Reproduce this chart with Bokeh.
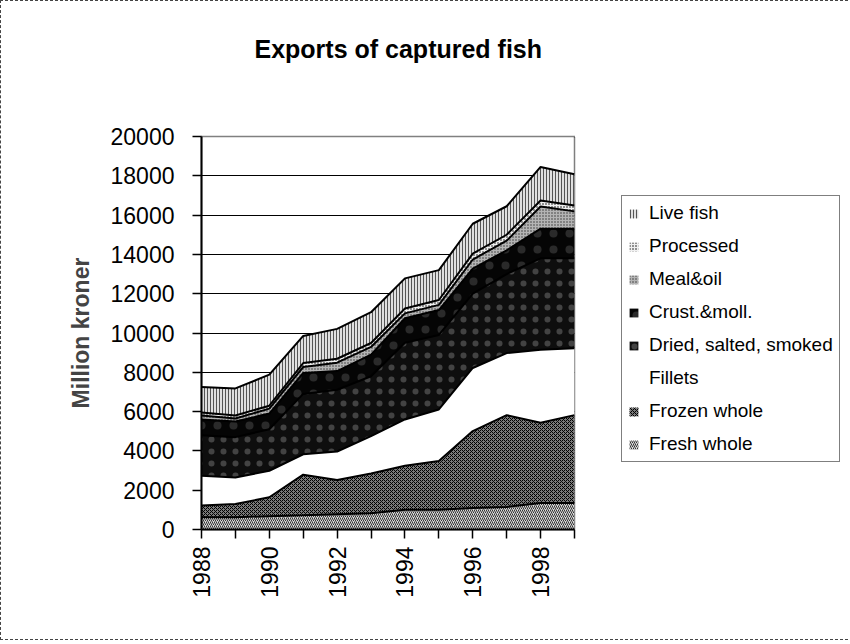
import math
from bokeh.plotting import figure
from bokeh.models import (ColumnDataSource, Range1d, FixedTicker, Legend, LegendItem, Title)
from bokeh.embed import file_html
from bokeh.resources import INLINE

years = [1988, 1989, 1990, 1991, 1992, 1993, 1994, 1995, 1996, 1997, 1998, 1999]
fresh_whole = [620, 620, 680, 720, 780, 830, 1000, 1000, 1100, 1150, 1350, 1350]
frozen_whole = [600, 680, 960, 2070, 1740, 2020, 2240, 2490, 3910, 4670, 4080, 4470]
fillets = [1520, 1350, 1350, 1040, 1450, 1900, 2360, 2620, 3210, 3160, 3720, 3410]
dried = [2060, 2050, 2110, 3070, 3140, 3050, 3900, 3790, 3780, 4020, 4650, 4570]
crust = [800, 800, 800, 1070, 950, 1100, 1250, 1270, 1280, 1210, 1510, 1510]
meal_oil = [200, 150, 250, 300, 430, 390, 250, 260, 460, 490, 1130, 880]
processed = [150, 150, 150, 200, 200, 200, 250, 250, 300, 300, 300, 300]
live_fish = [1300, 1380, 1580, 1380, 1520, 1570, 1530, 1520, 1520, 1450, 1710, 1590]

series_keys = ["fresh", "frozen", "fillets", "dried", "crust", "meal", "processed", "live"]
series_labels = ["Fresh whole", "Frozen whole", "Fillets", "Dried, salted, smoked",
                 "Crust.&moll.", "Meal&oil", "Processed", "Live fish"]
y_ticks = list(range(0, 20001, 2000))
x_tick_labels = {y: (str(y) if y % 2 == 0 else "") for y in years}

source = ColumnDataSource(dict(year=years, fresh=fresh_whole, frozen=frozen_whole,
                               fillets=fillets, dried=dried, crust=crust, meal=meal_oil,
                               processed=processed, live=live_fish))

FONT = "Liberation Sans"

p = figure(frame_width=373, frame_height=393, output_backend="svg", toolbar_location=None,
           x_range=Range1d(1988, 1999), y_range=Range1d(0, 20000),
           min_border_left=200, min_border_right=271, min_border_top=135, min_border_bottom=110,
           background_fill_color="white", border_fill_color="white",
           title="Exports of captured fish")
p.styles = {"border": "1px dashed #444"}

p.title.text_font = FONT
p.title.text_font_style = "bold"
p.title.text_font_size = "25px"
p.title.align = "left"
p.title.offset = 53
p.title.standoff = 0
p.title.text_color = "black"

# empty spacer between the title and the plot frame
p.add_layout(Title(text=" ", text_font_size="20px", standoff=50), "above")

fills = ["#d8d8d8", "#7a7a7a", "#ffffff", "#0e0e0e", "#050505", "#b4b4b4", "#f0f0f0", "#e0e0e0"]
hatches = ["right_diagonal_line", "diagonal_cross", " ", "dot", "dot", "dot", "dot", "vertical_line"]
hatch_colors = ["#333333", "#000000", "#000000", "#ffffff", "#ffffff", "#000000", "#000000", "#555555"]
hatch_alphas = [1, 1, 1, 0.22, 0.15, 0.7, 1, 1]
hatch_scales = [4, 4, 6, 12, 16, 3, 3, 3]

renderers = p.varea_stack(series_keys, x="year", source=source, color=fills,
                          hatch_pattern=hatches, hatch_color=hatch_colors,
                          hatch_alpha=hatch_alphas, hatch_scale=hatch_scales, hatch_weight=1)
p.vline_stack(series_keys, x="year", source=source, line_color="black", line_width=2)

p.xgrid.visible = False
p.ygrid.ticker = FixedTicker(ticks=y_ticks)
p.ygrid.grid_line_color = "black"
p.ygrid.grid_line_width = 1
p.ygrid.level = "underlay"

p.outline_line_color = "black"
p.outline_line_dash = "1 1"
p.outline_line_width = 1.5

p.yaxis.ticker = FixedTicker(ticks=y_ticks)
p.xaxis.ticker = FixedTicker(ticks=years)
p.xaxis.major_label_overrides = x_tick_labels
p.xaxis.major_label_orientation = math.pi / 2

for ax in (p.xaxis[0], p.yaxis[0]):
    ax.axis_line_color = "black"
    ax.axis_line_width = 2
    ax.major_tick_line_color = "black"
    ax.major_tick_line_width = 1.5
    ax.major_tick_out = 9
    ax.major_tick_in = 0
    ax.minor_tick_line_color = None
    ax.major_label_text_font = FONT
    ax.major_label_text_font_size = "23px"
    ax.major_label_text_color = "black"

p.yaxis.major_label_standoff = 18
p.xaxis.major_label_standoff = 8
p.yaxis.axis_label = "Million kroner"
p.yaxis.axis_label_text_font = FONT
p.yaxis.axis_label_text_font_style = "bold"
p.yaxis.axis_label_text_font_size = "23px"
p.yaxis.axis_label_standoff = 14

items = [LegendItem(label=series_labels[i], renderers=[renderers[i]]) for i in reversed(range(len(series_keys)))]
legend = Legend(items=items, location=(47, 67), orientation="vertical",
                label_text_font=FONT, label_text_font_size="19px", label_text_color="black",
                glyph_width=11, glyph_height=11, label_standoff=10, label_height=20,
                spacing=11, padding=6, margin=0,
                border_line_color="black", border_line_width=1,
                background_fill_color="white", background_fill_alpha=1)
p.add_layout(legend, "right")

open("out.html", "w").write(file_html(p, INLINE))
